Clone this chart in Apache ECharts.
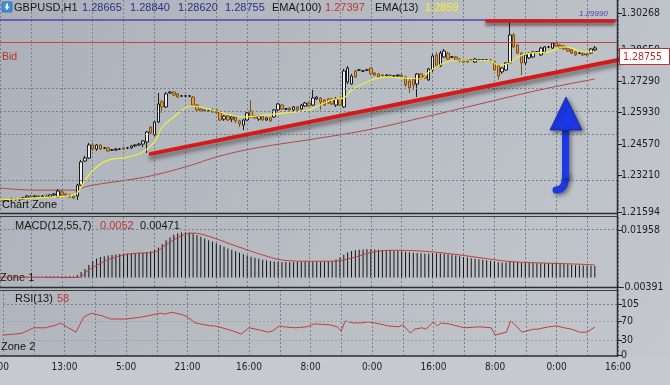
<!DOCTYPE html>
<html><head><meta charset="utf-8">
<script src="https://cdn.jsdelivr.net/npm/echarts@6/dist/echarts.min.js"></script>
<style>html,body{margin:0;padding:0;background:#b8bcc3;overflow:hidden}#c{width:670px;height:385px}</style>
</head><body><div id="c"></div>
<script>
// ---------- data ----------
const symbolName = 'GBPUSD,H1';
const timeLabels = ['21:00','13:00','5:00','21:00','16:00','8:00','0:00','16:00','8:00','0:00','16:00'];
const priceTicks = [1.21594, 1.23210, 1.24570, 1.25930, 1.27290, 1.28650, 1.30268];
const macdTicks = [-0.00391, 0.01958];
const rsiTicks = [0, 30, 70, 105];
// [open, close, low, high]
const candles = [
[1.2212,1.2207,1.2203,1.2216],[1.2207,1.2212,1.2203,1.2216],[1.2212,1.2207,1.2203,1.2216],[1.2212,1.2216,1.2207,1.2221],
[1.2216,1.2212,1.2207,1.2221],[1.2212,1.2216,1.2207,1.2221],[1.2216,1.2221,1.2212,1.2225],[1.2221,1.2229,1.2216,1.2234],
[1.2229,1.2225,1.2221,1.2234],[1.2225,1.2229,1.2221,1.2234],[1.2229,1.2225,1.2221,1.2234],[1.2225,1.2229,1.2221,1.2234],
[1.2229,1.2225,1.2221,1.2238],[1.2225,1.2234,1.2221,1.2238],[1.2234,1.2238,1.2229,1.2242],[1.2225,1.2251,1.2221,1.2260],
[1.2247,1.2234,1.2229,1.2255],[1.2238,1.2229,1.2225,1.2242],[1.2234,1.2225,1.2221,1.2238],[1.2229,1.2221,1.2216,1.2234],
[1.2229,1.2277,1.2212,1.2282],[1.2277,1.2378,1.2273,1.2386],[1.2382,1.2395,1.2378,1.2404],[1.2395,1.2452,1.2391,1.2461],
[1.2452,1.2434,1.2426,1.2461],[1.2434,1.2452,1.2426,1.2456],[1.2452,1.2434,1.2430,1.2456],[1.2439,1.2439,1.2434,1.2443],
[1.2439,1.2426,1.2421,1.2443],[1.2430,1.2430,1.2426,1.2434],[1.2430,1.2434,1.2426,1.2439],[1.2434,1.2434,1.2430,1.2439],
[1.2439,1.2434,1.2430,1.2443],[1.2439,1.2439,1.2434,1.2443],[1.2439,1.2448,1.2434,1.2452],[1.2448,1.2452,1.2443,1.2456],
[1.2452,1.2456,1.2448,1.2461],[1.2456,1.2469,1.2443,1.2474],[1.2465,1.2509,1.2417,1.2513],[1.2530,1.2504,1.2500,1.2535],
[1.2496,1.2552,1.2491,1.2557],[1.2552,1.2631,1.2548,1.2679],[1.2640,1.2618,1.2592,1.2648],[1.2618,1.2675,1.2613,1.2683],
[1.2679,1.2683,1.2675,1.2688],[1.2683,1.2670,1.2666,1.2688],[1.2675,1.2661,1.2657,1.2679],[1.2666,1.2666,1.2661,1.2670],
[1.2666,1.2666,1.2661,1.2670],[1.2666,1.2666,1.2661,1.2670],[1.2661,1.2626,1.2622,1.2666],[1.2626,1.2605,1.2600,1.2631],
[1.2609,1.2600,1.2596,1.2613],[1.2605,1.2600,1.2596,1.2609],[1.2600,1.2600,1.2596,1.2605],[1.2605,1.2596,1.2592,1.2613],
[1.2605,1.2592,1.2587,1.2609],[1.2596,1.2561,1.2557,1.2600],[1.2565,1.2578,1.2557,1.2583],[1.2578,1.2561,1.2557,1.2583],
[1.2565,1.2574,1.2552,1.2578],[1.2574,1.2557,1.2548,1.2578],[1.2557,1.2544,1.2530,1.2561],[1.2539,1.2561,1.2517,1.2565],
[1.2561,1.2592,1.2557,1.2596],[1.2600,1.2574,1.2570,1.2648],[1.2578,1.2570,1.2565,1.2583],[1.2565,1.2578,1.2557,1.2583],
[1.2578,1.2561,1.2557,1.2583],[1.2561,1.2570,1.2557,1.2574],[1.2570,1.2557,1.2552,1.2574],[1.2574,1.2605,1.2570,1.2609],
[1.2605,1.2631,1.2600,1.2635],[1.2626,1.2609,1.2605,1.2631],[1.2609,1.2609,1.2605,1.2613],[1.2613,1.2605,1.2600,1.2618],
[1.2605,1.2618,1.2600,1.2622],[1.2618,1.2605,1.2600,1.2622],[1.2609,1.2626,1.2605,1.2631],[1.2622,1.2635,1.2618,1.2640],
[1.2635,1.2622,1.2618,1.2640],[1.2626,1.2657,1.2622,1.2692],[1.2653,1.2661,1.2648,1.2666],[1.2657,1.2640,1.2605,1.2661],
[1.2648,1.2626,1.2622,1.2653],[1.2653,1.2635,1.2631,1.2657],[1.2653,1.2631,1.2626,1.2657],[1.2626,1.2653,1.2618,1.2661],
[1.2653,1.2626,1.2622,1.2657],[1.2618,1.2775,1.2613,1.2784],[1.2727,1.2788,1.2718,1.2797],[1.2718,1.2753,1.2714,1.2762],
[1.2775,1.2749,1.2744,1.2779],[1.2779,1.2779,1.2775,1.2784],[1.2775,1.2775,1.2771,1.2779],[1.2779,1.2779,1.2775,1.2784],
[1.2788,1.2762,1.2757,1.2792],[1.2766,1.2757,1.2753,1.2771],[1.2762,1.2749,1.2744,1.2766],[1.2757,1.2753,1.2749,1.2762],
[1.2753,1.2757,1.2749,1.2762],[1.2757,1.2753,1.2749,1.2762],[1.2753,1.2753,1.2749,1.2757],[1.2753,1.2757,1.2749,1.2762],
[1.2757,1.2749,1.2744,1.2762],[1.2749,1.2714,1.2705,1.2753],[1.2731,1.2701,1.2679,1.2744],[1.2740,1.2714,1.2692,1.2744],
[1.2718,1.2762,1.2661,1.2766],[1.2762,1.2740,1.2736,1.2766],[1.2753,1.2744,1.2740,1.2757],[1.2736,1.2784,1.2731,1.2788],
[1.2779,1.2840,1.2771,1.2849],[1.2845,1.2797,1.2788,1.2858],[1.2797,1.2853,1.2792,1.2862],[1.2836,1.2862,1.2832,1.2871],
[1.2853,1.2827,1.2823,1.2858],[1.2836,1.2836,1.2832,1.2840],[1.2836,1.2823,1.2819,1.2840],[1.2827,1.2819,1.2814,1.2832],
[1.2823,1.2814,1.2810,1.2827],[1.2823,1.2814,1.2810,1.2827],[1.2823,1.2823,1.2819,1.2827],[1.2814,1.2827,1.2810,1.2832],
[1.2823,1.2823,1.2819,1.2827],[1.2823,1.2823,1.2819,1.2827],[1.2823,1.2823,1.2819,1.2827],[1.2823,1.2819,1.2814,1.2827],
[1.2814,1.2779,1.2775,1.2819],[1.2801,1.2753,1.2736,1.2805],[1.2771,1.2788,1.2762,1.2792],[1.2779,1.2810,1.2775,1.2814],
[1.2810,1.2932,1.2805,1.2998],[1.2932,1.2880,1.2875,1.2941],[1.2888,1.2853,1.2849,1.2893],[1.2853,1.2810,1.2757,1.2858],
[1.2810,1.2845,1.2801,1.2853],[1.2832,1.2853,1.2827,1.2858],[1.2836,1.2858,1.2832,1.2862],[1.2858,1.2858,1.2853,1.2862],
[1.2845,1.2875,1.2840,1.2880],[1.2858,1.2880,1.2853,1.2884],[1.2880,1.2880,1.2875,1.2884],[1.2875,1.2897,1.2871,1.2902],
[1.2897,1.2884,1.2880,1.2902],[1.2888,1.2875,1.2871,1.2893],[1.2884,1.2871,1.2867,1.2888],[1.2875,1.2862,1.2858,1.2880],
[1.2867,1.2853,1.2849,1.2871],[1.2858,1.2845,1.2840,1.2862],[1.2853,1.2853,1.2849,1.2858],[1.2853,1.2845,1.2840,1.2858],
[1.2849,1.2845,1.2840,1.2853],[1.2853,1.2871,1.2849,1.2875],[1.28665,1.28755,1.28620,1.28840]
];
// [barIndex, value] readings of the indicator lines
const ema100 = [[0,1.2264],[9,1.2255],[20,1.2255],[22,1.2269],[26,1.2282],[33,1.2299],[39,1.2317],[48,1.2356],[57,1.2404],[67,1.2441],[80,1.2475],[95,1.2517],[109,1.2570],[123,1.2626],[141,1.2697],[154,1.27397]];
const ema13 = [[0,1.2212],[9,1.2221],[17,1.2229],[20,1.2242],[22,1.2299],[25,1.2356],[28,1.2386],[33,1.2399],[37,1.2421],[40,1.2465],[42,1.2530],[45,1.2574],[48,1.2613],[50,1.2622],[54,1.2609],[57,1.2596],[63,1.2574],[69,1.2583],[74,1.2592],[80,1.2605],[86,1.2650],[89,1.2657],[91,1.2692],[95,1.2727],[100,1.2749],[105,1.2744],[109,1.2740],[111,1.2771],[115,1.2810],[119,1.2823],[127,1.2819],[129,1.2801],[132,1.2810],[134,1.2836],[137,1.2853],[142,1.2858],[146,1.2880],[148,1.2875],[151,1.2858],[154,1.2859]];
const macdHist = [
0.0003,0.0003,0.0003,0.0003,0.0003,0.0003,0.0003,0.0003,0.0003,0.0003,0.0003,0.0003,
0.0005,0.0005,0.0005,0.0005,0.0005,0.0005,0.0005,0.0005,
0.0010,0.0023,0.0035,0.0052,0.0068,0.0078,0.0084,0.0088,0.0091,0.0093,0.0095,0.0097,0.0098,0.0099,0.0100,0.0101,0.0102,0.0103,0.0105,0.0108,
0.0114,0.0124,0.0138,0.0153,0.0165,0.0176,0.0182,0.0185,0.0186,0.0185,0.0181,0.0175,0.0168,0.0161,0.0154,0.0148,0.0141,0.0134,0.0127,0.0120,
0.0114,0.0108,0.0102,0.0096,0.0091,0.0086,0.0081,0.0077,0.0073,0.0070,0.0068,0.0066,0.0065,
0.0064,0.0064,0.0063,0.0063,0.0064,0.0064,0.0065,0.0065,0.0066,0.0066,0.0065,0.0065,0.0066,
0.0068,0.0074,0.0082,0.0094,0.0104,0.0109,0.0112,0.0114,0.0115,0.0116,0.0116,0.0115,0.0114,0.0113,0.0112,0.0111,0.0110,0.0109,0.0108,
0.0106,0.0104,0.0102,0.0101,0.0100,0.0099,0.0099,0.0100,0.0100,0.0099,0.0098,0.0096,0.0094,0.0091,0.0088,0.0085,0.0082,0.0079,0.0077,
0.0075,0.0073,0.0071,0.0069,0.0066,0.0063,0.0062,0.0062,0.0066,0.0066,0.0064,0.0061,0.0060,0.0060,0.0060,0.0059,0.0059,0.0059,0.0059,
0.0060,0.0060,0.0059,0.0057,0.0055,0.0053,0.0051,0.0050,0.0049,0.0048,0.0048,0.00471
];
const macdSignal = [[0,0.0002],[10,0.0001],[20,0.0000],[23,0.0031],[26,0.0058],[29,0.0080],[34,0.0098],[40,0.0105],[43,0.0135],[47,0.0172],[50,0.0183],[54,0.0170],[60,0.0136],[66,0.0103],[69,0.0088],[73,0.0072],[80,0.0067],[86,0.0067],[91,0.0080],[96,0.0103],[101,0.0112],[109,0.0109],[117,0.0097],[124,0.0082],[132,0.0066],[140,0.0060],[148,0.0056],[154,0.0052]];
const rsi = [[0,41],[3,43],[5,45],[8,56],[11,56],[14,62],[15,66],[17,56],[19,47],[21,78],[23,86],[26,80],[28,74],[32,74],[36,78],[41,86],[42,84],[44,88],[47,82],[48,78],[50,66],[54,60],[55,60],[57,56],[60,49],[62,43],[64,56],[67,51],[69,47],[70,49],[72,60],[73,58],[76,56],[79,58],[81,64],[85,62],[87,58],[88,49],[89,70],[91,66],[93,66],[95,68],[98,64],[100,60],[103,58],[104,62],[106,45],[107,53],[109,56],[110,53],[112,68],[113,60],[114,66],[116,64],[119,58],[120,56],[124,58],[127,56],[128,41],[129,43],[131,47],[132,70],[133,64],[135,47],[138,53],[139,53],[142,58],[144,60],[146,56],[148,53],[150,47],[152,47],[154,58]];
const bidPrice = 1.28755;
const maxLinePrice = 1.2999;
const topLine = [[126, 1.2996], [159, 1.2996]];
const trendLine = [[39, 1.2413], [160, 1.2823]];
const slotCount = 161;

// ---------- chart ----------
const categories = Array.from({length: slotCount}, (_, i) => String(i));
const axisFont = "'DejaVu Sans Condensed','Liberation Sans',sans-serif";
const txtFont = "'Liberation Sans',Arial,sans-serif";
const gridColor = '#7b818a';
const last = candles[candles.length - 1];
const lastRsi = rsi[rsi.length - 1][1];
const lastMacd = macdHist[macdHist.length - 1];
const lastSig = macdSignal[macdSignal.length - 1][1];

function xAx(g, showLabels) {
  return {
    type: 'category', gridIndex: g, data: categories, boundaryGap: false,
    axisLine: {show: false}, axisTick: {show: false},
    axisLabel: showLabels ? {
      show: true, interval: 15, margin: 7, fontSize: 10, color: '#1e1e1e', fontFamily: axisFont,
      hideOverlap: false,
      // the first label sits on the left edge of the picture and is cut off there (drawn below)
      formatter: (v, idx) => idx === 0 ? '' : (timeLabels[Math.round(idx / 16)] || '')
    } : {show: false},
    splitLine: {show: true, interval: 7, lineStyle: {color: gridColor, type: [2, 2], width: 1}}
  };
}
function yAx(g, min, max, ticks, dec) {
  return {
    type: 'value', gridIndex: g, position: 'right', min: min, max: max,
    axisLine: {show: false},
    axisTick: {show: true, length: 4, lineStyle: {color: '#222'}, customValues: ticks},
    axisLabel: {show: true, customValues: ticks, margin: 3, color: '#1c1c1c', fontSize: 10.5, fontFamily: axisFont,
      formatter: v => dec ? Number(v).toFixed(dec) : String(Math.round(v))},
    splitLine: {show: false}
  };
}
function hLines(values, color) {
  return values.map(v => ({yAxis: v, lineStyle: {color: color || gridColor, type: [2, 2], width: 1}}));
}
const ml = (data) => ({silent: true, symbol: ['none', 'none'], label: {show: false}, animation: false, emphasis: {disabled: true}, data: data});

const chart = echarts.init(document.getElementById('c'), null, {renderer: 'canvas', width: 670, height: 385});
const option = {
  animation: false,
  backgroundColor: new echarts.graphic.LinearGradient(0, 0, 1, 1, [
    {offset: 0, color: '#acb1b9'}, {offset: 1, color: '#c4c8ce'}]),
  grid: [
    {left: 0, right: 52, top: 0, height: 212},
    {left: 0, right: 52, top: 217, height: 70},
    {left: 0, right: 52, top: 290, height: 65}
  ],
  xAxis: [xAx(0, false), xAx(1, false), xAx(2, true)],
  yAxis: [
    yAx(0, 1.21594, 1.30848, priceTicks, 5),
    yAx(1, -0.00391, 0.02493, macdTicks, 5),
    yAx(2, 0, 133.7, rsiTicks, 0)
  ],
  series: [
    {type: 'line', xAxisIndex: 0, yAxisIndex: 0, data: ema100, smooth: 0.4, connectNulls: true, showSymbol: false, z: 2,
      lineStyle: {color: '#b04848', width: 1},
      markLine: ml(hLines(priceTicks.slice(1, 6)))},
    {type: 'candlestick', xAxisIndex: 0, yAxisIndex: 0, data: candles, barWidth: 3, z: 3,
      itemStyle: {color: '#ececec', color0: '#e39c3a', borderColor: '#1b1b1b', borderColor0: '#7d521a', borderColorDoji: '#111', borderWidth: 1}},
    {type: 'line', xAxisIndex: 0, yAxisIndex: 0, data: ema13, smooth: 0.4, showSymbol: false, z: 4,
      lineStyle: {color: '#f1ee3c', width: 1.2},
      markLine: ml([
        {yAxis: bidPrice, lineStyle: {color: '#c04545', width: 1, type: 'solid'}},
        {yAxis: maxLinePrice, lineStyle: {color: '#5a40b0', width: 1.5, type: 'solid'}},
        [{coord: topLine[0], lineStyle: {color: '#d41a1a', width: 3.5, type: 'solid', cap: 'round', shadowColor: 'rgba(30,30,30,0.55)', shadowBlur: 3, shadowOffsetY: 3}}, {coord: topLine[1]}],
        [{coord: trendLine[0], lineStyle: {color: '#d41a1a', width: 4, type: 'solid', cap: 'round', shadowColor: 'rgba(30,30,30,0.55)', shadowBlur: 4, shadowOffsetY: 4}}, {coord: trendLine[1]}]
      ])},
    {type: 'bar', xAxisIndex: 1, yAxisIndex: 1, data: macdHist, barWidth: 1, z: 3,
      itemStyle: {color: '#141414'}},
    {type: 'line', xAxisIndex: 1, yAxisIndex: 1, data: macdSignal, smooth: 0.4, showSymbol: false, z: 4,
      lineStyle: {color: '#c23a3a', width: 1},
      markLine: ml(hLines([macdTicks[1]]))},
    {type: 'line', xAxisIndex: 2, yAxisIndex: 2, data: rsi, showSymbol: false, z: 4,
      lineStyle: {color: '#c43c3c', width: 1},
      markLine: ml(hLines([105]).concat(hLines([70, 30], '#9ea3ab')))}
  ],
  graphic: [
    {type: 'rect', z: 0, shape: {x: 0, y: 357, width: 670, height: 28}, style: {fill: '#c6c9cd'}},
    {type: 'text', z: 60, x: -4, y: 367, style: {text: timeLabels[0], fill: '#1e1e1e', font: "10px " + axisFont, align: 'center', verticalAlign: 'middle'}},
    // panel frames
    {type: 'line', z: 50, shape: {x1: 0, y1: 213.5, x2: 618, y2: 213.5}, style: {stroke: '#2a2d31', lineWidth: 1.5}},
    {type: 'line', z: 50, shape: {x1: 0, y1: 216.5, x2: 618, y2: 216.5}, style: {stroke: '#3a3d42', lineWidth: 1}},
    {type: 'line', z: 50, shape: {x1: 0, y1: 287.5, x2: 618, y2: 287.5}, style: {stroke: '#2a2d31', lineWidth: 1.5}},
    {type: 'line', z: 50, shape: {x1: 0, y1: 290.5, x2: 618, y2: 290.5}, style: {stroke: '#3a3d42', lineWidth: 1}},
    {type: 'line', z: 50, shape: {x1: 0, y1: 356, x2: 618, y2: 356}, style: {stroke: '#2a2d31', lineWidth: 1.5}},
    {type: 'line', z: 50, shape: {x1: 617.5, y1: 0, x2: 617.5, y2: 356.5}, style: {stroke: '#2a2d31', lineWidth: 1.5}},
    // header
    {type: 'rect', z: 60, shape: {x: 2, y: 2, width: 10, height: 10, r: 1}, style: {fill: '#3b8fe0', stroke: '#2a6ab0', lineWidth: 0.8}},
    {type: 'polygon', z: 61, shape: {points: [[4.5, 6.5], [9.5, 6.5], [7, 10]]}, style: {fill: '#fff'}},
    {type: 'rect', z: 61, shape: {x: 6, y: 3.5, width: 2, height: 3.5}, style: {fill: '#fff'}},
    {type: 'text', z: 60, x: 14, y: 8, style: {text: symbolName, fill: '#151515', font: '11px ' + txtFont, verticalAlign: 'middle'}},
    {type: 'text', z: 60, x: 82, y: 8, style: {text: last[0].toFixed(5), fill: '#262f8e', font: '11px ' + txtFont, verticalAlign: 'middle'}},
    {type: 'text', z: 60, x: 130, y: 8, style: {text: last[3].toFixed(5), fill: '#262f8e', font: '11px ' + txtFont, verticalAlign: 'middle'}},
    {type: 'text', z: 60, x: 178, y: 8, style: {text: last[2].toFixed(5), fill: '#262f8e', font: '11px ' + txtFont, verticalAlign: 'middle'}},
    {type: 'text', z: 60, x: 225, y: 8, style: {text: last[1].toFixed(5), fill: '#262f8e', font: '11px ' + txtFont, verticalAlign: 'middle'}},
    {type: 'text', z: 60, x: 272, y: 8, style: {text: 'EMA(100)', fill: '#151515', font: '11px ' + txtFont, verticalAlign: 'middle'}},
    {type: 'text', z: 60, x: 325, y: 8, style: {text: ema100[ema100.length - 1][1].toFixed(5), fill: '#c23535', font: '11px ' + txtFont, verticalAlign: 'middle'}},
    {type: 'text', z: 60, x: 375, y: 8, style: {text: 'EMA(13)', fill: '#151515', font: '11px ' + txtFont, verticalAlign: 'middle'}},
    {type: 'text', z: 60, x: 425, y: 8, style: {text: ema13[ema13.length - 1][1].toFixed(4), fill: '#f6f22a', font: '11px ' + txtFont, verticalAlign: 'middle'}},
    {type: 'text', z: 60, x: 579, y: 14, style: {text: maxLinePrice.toFixed(5), fill: '#5a3fa8', font: 'italic 8px ' + txtFont, verticalAlign: 'middle'}},
    {type: 'text', z: 60, x: 2, y: 57, style: {text: 'Bid', fill: '#b83232', font: '10.5px ' + txtFont, verticalAlign: 'middle'}},
    {type: 'text', z: 60, x: 2, y: 205, style: {text: 'Chart Zone', fill: '#111', font: '11px ' + txtFont, verticalAlign: 'middle'}},
    {type: 'text', z: 60, x: 15, y: 226, style: {text: 'MACD(12,55,7)', fill: '#151515', font: '11px ' + txtFont, verticalAlign: 'middle'}},
    {type: 'text', z: 60, x: 100, y: 226, style: {text: lastSig.toFixed(4), fill: '#c23535', font: '11px ' + txtFont, verticalAlign: 'middle'}},
    {type: 'text', z: 60, x: 140, y: 226, style: {text: lastMacd.toFixed(5), fill: '#151515', font: '11px ' + txtFont, verticalAlign: 'middle'}},
    {type: 'text', z: 1, x: 0, y: 278, style: {text: 'Zone 1', fill: '#111', font: '11px ' + txtFont, verticalAlign: 'middle'}},
    {type: 'text', z: 60, x: 15, y: 299, style: {text: 'RSI(13)', fill: '#151515', font: '11px ' + txtFont, verticalAlign: 'middle'}},
    {type: 'text', z: 60, x: 57, y: 299, style: {text: String(lastRsi), fill: '#c23535', font: '11px ' + txtFont, verticalAlign: 'middle'}},
    {type: 'text', z: 60, x: 1, y: 347, style: {text: 'Zone 2', fill: '#111', font: '11px ' + txtFont, verticalAlign: 'middle'}},
    // bid price box
    {type: 'rect', z: 70, shape: {x: 619.5, y: 48.5, width: 50, height: 16}, style: {fill: '#ffffff', stroke: '#c03030', lineWidth: 1}},
    {type: 'text', z: 71, x: 623, y: 57, style: {text: bidPrice.toFixed(5), fill: '#c02828', font: "10.5px " + axisFont, verticalAlign: 'middle'}},
    // blue arrow
    {type: 'group', z: 80, children: [
      {type: 'bezierCurve', z: 80, shape: {x1: 565.5, y1: 176, cpx1: 565.5, cpy1: 190, x2: 556, y2: 190}, style: {stroke: '#1b38e2', lineWidth: 7, fill: null, lineCap: 'round', shadowBlur: 4, shadowColor: 'rgba(0,0,0,0.45)', shadowOffsetX: 2, shadowOffsetY: 2}},
      {type: 'line', z: 80, shape: {x1: 565.5, y1: 126, x2: 565.5, y2: 178}, style: {stroke: '#1b38e2', lineWidth: 7, shadowBlur: 4, shadowColor: 'rgba(0,0,0,0.45)', shadowOffsetX: 2, shadowOffsetY: 2}},
      {type: 'polygon', z: 81, shape: {points: [[550, 130], [566, 97], [582, 130]]}, style: {fill: '#1b38e2', stroke: '#1426a8', lineWidth: 0.8, shadowBlur: 4, shadowColor: 'rgba(0,0,0,0.45)', shadowOffsetX: 2, shadowOffsetY: 2}}
    ]}
  ]
};
chart.setOption(option);
</script></body></html>
